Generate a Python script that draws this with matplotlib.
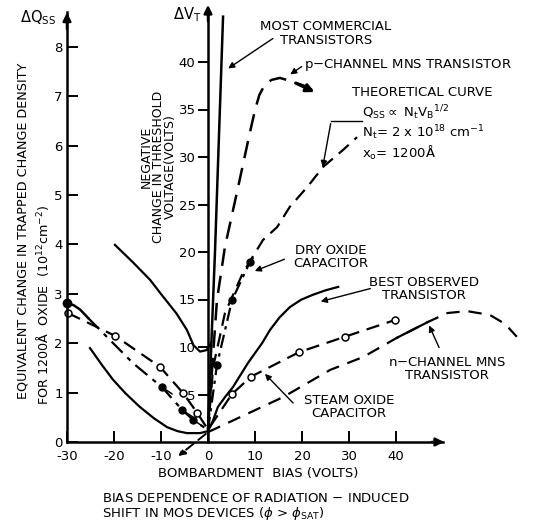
import matplotlib.pyplot as plt

plt.rcParams['font.family'] = ['DejaVu Sans']
plt.rcParams['mathtext.fontset'] = 'dejavusans'

# bombardment bias (V) vs equivalent trapped charge (1e12 cm^-2)
commercial_x = [0.0, 1.5, 3.2]
commercial_q = [0.28, 3.89, 8.61]
commercial_neg_x = [-19.8, -16.0, -12.3, -10.2, -6.7, -4.5, -3.1, -1.7, -0.3, 0.6]
commercial_neg_q = [3.99, 3.64, 3.28, 3.02, 2.60, 2.27, 1.96, 1.83, 1.86, 2.00]

pchan_x = [0.0, 0.85, 1.9, 3.6, 6.4, 8.9, 10.0, 10.9, 12.0, 13.5, 15.3, 18.1, 21.1, 23.2]
pchan_q = [0.24, 1.46, 2.87, 3.95, 5.16, 6.26, 6.72, 7.02, 7.22, 7.33, 7.37, 7.29, 7.19, 7.06]

theory_x = [0.0, 1.1, 3.6, 7.4, 11.7, 14.7, 17.4, 21.1, 24.5, 28.7, 31.7]
theory_q = [0.24, 1.52, 2.61, 3.42, 4.09, 4.35, 4.76, 5.16, 5.57, 5.91, 6.17]

dry_x = [0.0, 1.9, 5.1, 8.9, 10.0]
dry_q = [0.24, 1.56, 2.87, 3.64, 3.79]
dry_dot_x = [1.9, 5.1, 8.9]
dry_dot_q = [1.56, 2.87, 3.64]

neg_x = [-30.0, -28.6, -27.2, -25.5, -23.0, -16.0, -9.8, -5.5, -3.2, -0.6, 0.0]
neg_q = [2.81, 2.77, 2.68, 2.51, 2.27, 1.60, 1.11, 0.65, 0.45, 0.28, 0.24]
neg_dot_x = [-9.8, -5.5, -3.2]
neg_dot_q = [1.11, 0.65, 0.45]

steam_x = [-29.8, -19.8, -10.2, -5.3, -2.3, 0.0, 5.1, 9.1, 19.4, 29.1, 39.8]
steam_q = [2.61, 2.15, 1.52, 0.99, 0.59, 0.25, 0.97, 1.32, 1.82, 2.13, 2.47]
steam_pt_x = [-29.8, -19.8, -10.2, -5.3, -2.3, 5.1, 9.1, 19.4, 29.1, 39.8]
steam_pt_q = [2.61, 2.15, 1.52, 0.99, 0.59, 0.97, 1.32, 1.82, 2.13, 2.47]

best_x = [-25.1, -22.5, -20.2, -17.5, -14.5, -11.5, -8.7, -6.5, -4.5, -1.7, 0.0, 1.0,
          2.1, 3.7, 5.3, 8.5, 11.5, 13.2, 15.2, 17.4, 19.8, 22.3, 25.0, 27.7]
best_q = [1.90, 1.55, 1.26, 0.98, 0.71, 0.48, 0.30, 0.22, 0.18, 0.18, 0.22, 0.42,
          0.71, 0.92, 1.11, 1.60, 2.00, 2.27, 2.52, 2.73, 2.88, 2.98, 3.07, 3.14]

nchan_x = [-6.8, 0.0, 16.0, 26.0, 33.0, 40.2, 46.8, 50.9, 55.1, 60.0, 63.2, 65.7]
nchan_q = [-0.32, 0.20, 0.91, 1.46, 1.72, 2.11, 2.43, 2.61, 2.65, 2.57, 2.39, 2.13]

x_ticks = [-30, -20, -10, 0, 10, 20, 30, 40]
q_ticks = [0, 1, 2, 3, 4, 5, 6, 7, 8]
vt_ticks = [5, 10, 15, 20, 25, 30, 35, 40]

W, H = 551, 521
fig = plt.figure(figsize=(W / 100, H / 100), dpi=100)
ax = fig.add_axes([67 / W, 79 / H, 463 / W, 437 / H])
ax.set_xlim(-30, 68.5)
ax.set_ylim(0, 8.846)

lw = 1.6
dash = (0, (6, 3.5))
ax.plot(commercial_x, commercial_q, color='k', lw=1.8)
ax.plot(commercial_neg_x, commercial_neg_q, color='k', lw=1.6)
ax.plot(pchan_x, pchan_q, color='k', lw=1.8, ls=(0, (7, 4)))
ax.annotate('', xy=(pchan_x[-1], pchan_q[-1]), xytext=(pchan_x[-3], pchan_q[-3]),
            arrowprops=dict(arrowstyle='-|>', lw=2.2, color='k', mutation_scale=12))
ax.plot(theory_x, theory_q, color='k', lw=lw, ls=dash)
ax.plot(dry_x, dry_q, color='k', lw=lw, ls=(0, (6, 2.5, 1.5, 2.5)))
ax.plot(dry_dot_x, dry_dot_q, 'o', color='k', ms=5)
ax.plot(neg_x[:4], neg_q[:4], color='k', lw=1.8)
ax.plot(neg_x[3:], neg_q[3:], color='k', lw=lw, ls=(0, (7, 3, 2, 3)))
ax.plot(neg_x[:1], neg_q[:1], 'o', color='k', ms=6, clip_on=False)
ax.plot(neg_dot_x, neg_dot_q, 'o', color='k', ms=5)
for x, q in zip(neg_dot_x, neg_dot_q):
    ax.annotate('', xy=(x, q), xytext=(9, -6), textcoords='offset points',
                arrowprops=dict(arrowstyle='-', lw=1.1, color='k'))
ax.plot(steam_x, steam_q, color='k', lw=lw, ls=dash)
ax.plot(steam_pt_x, steam_pt_q, 'o', mfc='white', mec='k', mew=1.1, ms=5, clip_on=False)
ax.plot(best_x, best_q, color='k', lw=lw)
ax.plot(nchan_x[1:], nchan_q[1:], color='k', lw=lw, ls=(0, (6, 4)))
ax.plot(nchan_x[5:7], nchan_q[5:7], color='k', lw=lw)
ax.annotate('', xy=(nchan_x[0], nchan_q[0]), xytext=(nchan_x[1], nchan_q[1]),
            annotation_clip=False,
            arrowprops=dict(arrowstyle='-|>', lw=1.4, color='k', mutation_scale=10,
                            linestyle=(0, (5, 3))))

# axes frame
for s in ['top', 'right']:
    ax.spines[s].set_visible(False)
for s in ['left', 'bottom']:
    ax.spines[s].set_linewidth(1.8)
ax.spines['left'].set_bounds(0, 8.7)
ax.spines['bottom'].set_bounds(-30, 50)
ax.annotate('', xy=(-30, 8.75), xytext=(-30, 8.3),
            arrowprops=dict(arrowstyle='-|>', lw=1.8, color='k', mutation_scale=12))
ax.annotate('', xy=(50.8, 0), xytext=(47, 0), annotation_clip=False,
            arrowprops=dict(arrowstyle='-|>', lw=1.8, color='k', mutation_scale=12))
ax.set_xticks(x_ticks)
ax.set_xticklabels([str(v) for v in x_ticks])
ax.set_yticks(q_ticks)
ax.tick_params(axis='x', direction='in', length=8, width=1.4, pad=6, labelsize=9.5)
ax.tick_params(axis='y', direction='in', length=8, width=1.4, pad=3, labelsize=9.5)

ax2 = ax.twinx()
ax2.set_ylim(0, 46.0)
for s in ['top', 'right', 'bottom']:
    ax2.spines[s].set_visible(False)
ax2.spines['left'].set_visible(True)
ax2.spines['left'].set_position(('data', 0))
ax2.spines['left'].set_linewidth(1.8)
ax2.spines['left'].set_bounds(0, 45.3)
ax2.yaxis.set_ticks_position('left')
ax2.set_yticks(vt_ticks)
ax2.tick_params(axis='y', direction='out', length=7, width=1.4, pad=2, labelsize=9.5)
ax2.annotate('', xy=(0, 46.3), xytext=(0, 44), annotation_clip=False,
             arrowprops=dict(arrowstyle='-|>', lw=1.8, color='k', mutation_scale=12))

# label leaders
leader = dict(arrowstyle='-|>', lw=1.0, color='k', mutation_scale=9)
ax.annotate('', xy=(3.8, 7.53), xytext=(14.3, 8.20), arrowprops=leader)
ax.annotate('', xy=(17.0, 7.41), xytext=(20.4, 7.63), arrowprops=leader)
ax.plot([32.8, 26.2], [6.50, 6.50], color='k', lw=1.0)
ax.annotate('', xy=(24.3, 5.51), xytext=(26.2, 6.50), arrowprops=leader)
ax.annotate('', xy=(9.4, 3.44), xytext=(16.8, 3.72), arrowprops=leader)
ax.annotate('', xy=(23.4, 2.83), xytext=(35.1, 3.12), arrowprops=leader)
ax.annotate('', xy=(11.7, 1.42), xytext=(18.5, 0.75), arrowprops=leader)
ax.annotate('', xy=(46.8, 2.41), xytext=(49.4, 1.86), arrowprops=leader)


def put(px, py, s, **kw):
    kw.setdefault('fontsize', 9.5)
    kw.setdefault('ha', 'center')
    kw.setdefault('va', 'center')
    fig.text(px / W, 1 - py / H, s, **kw)


put(38, 18, r'$\Delta$Q$_{\rm SS}$', fontsize=10.5)
put(187, 15, r'$\Delta$V$_{\rm T}$', fontsize=10.5)
put(23, 231, 'EQUIVALENT CHANGE IN TRAPPED CHANGE DENSITY', rotation=90, fontsize=9.2)
put(43, 305, r'FOR 1200$\mathrm{\AA}$  OXIDE  (10$^{12}$cm$^{-2}$)', rotation=90, fontsize=9.2)
put(146, 157, 'NEGATIVE', rotation=90, fontsize=9)
put(158, 167, 'CHANGE IN THRESHOLD', rotation=90, fontsize=9)
put(170, 167, 'VOLTAGE(VOLTS)', rotation=90, fontsize=9)
put(326, 33, 'MOST COMMERCIAL\nTRANSISTORS', linespacing=1.1)
put(304, 65, r'p$-$CHANNEL MNS TRANSISTOR', ha='left')
put(352, 93, 'THEORETICAL CURVE', ha='left')
put(362, 113, r'Q$_{\rm SS}$$\propto$ N$_{\rm t}$V$_{\rm B}$$^{1/2}$', ha='left')
put(362, 133, r'N$_{\rm t}$= 2 x 10$^{18}$ cm$^{-1}$', ha='left')
put(362, 153, r'x$_{\rm o}$= 1200$\mathrm{\AA}$', ha='left')
put(331, 257, 'DRY OXIDE\nCAPACITOR', linespacing=1.0)
put(424, 289, 'BEST OBSERVED\nTRANSISTOR', linespacing=1.0)
put(447, 369, r'n$-$CHANNEL MNS' + '\nTRANSISTOR', linespacing=1.0)
put(349, 407, 'STEAM OXIDE\nCAPACITOR', linespacing=1.0)
put(258, 474, 'BOMBARDMENT  BIAS (VOLTS)')
put(102, 499, r'BIAS DEPENDENCE OF RADIATION $-$ INDUCED', ha='left')
put(102, 514, r'SHIFT IN MOS DEVICES ($\phi$ > $\phi_{\rm SAT}$)', ha='left')

fig.savefig('out.png', dpi=100)
